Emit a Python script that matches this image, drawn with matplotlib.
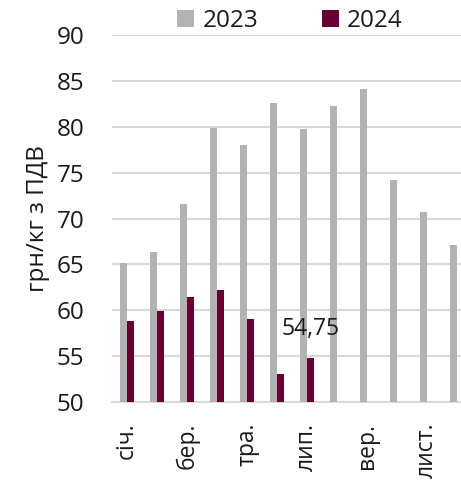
import numpy as np
import matplotlib
matplotlib.use("Agg")
import matplotlib.pyplot as plt

plt.rcParams['font.family'] = ['Open Sans', 'DejaVu Sans']

months = ['січ.', 'лют.', 'бер.', 'квіт.', 'тра.', 'черв.', 'лип.', 'серп.', 'вер.', 'жовт.', 'лист.', 'груд.']
vals_2023 = [65.2, 66.3, 71.6, 79.9, 78.0, 82.6, 79.75, 82.25, 84.1, 74.2, 70.7, 67.1]
vals_2024 = [58.8, 59.9, 61.4, 62.2, 59.1, 53.1, 54.75]
label_2024 = '54,75'

c23 = '#b2b2b2'
c24 = '#660033'
grid_c = '#d9d9d9'
txt_c = '#1a1a1a'

fig = plt.figure(figsize=(4.61, 4.86), dpi=100)
# axes extends past the right edge, like the cropped original
ax = fig.add_axes([112 / 461, 1 - 402 / 486, 360 / 461, 367 / 486])

x = np.arange(len(months))
w = 0.233
ax.bar(x - w / 2, vals_2023, width=w, color=c23, label='2023', zorder=3)
x24 = np.arange(len(vals_2024))
ax.bar(x24 + w / 2, vals_2024, width=w, color=c24, label='2024', zorder=3)

ax.annotate(label_2024, (x24[-1] + w / 2, vals_2024[-1]), xytext=(0, 29), textcoords='offset pixels',
            ha='center', va='center', fontsize=16.5, color=txt_c)

ax.set_ylim(50, 90)
ax.set_xlim(-0.5, 11.5)
ax.set_yticks(np.arange(50, 91, 5))
ax.set_xticks(x[::2])
ax.set_xticklabels(months[::2], rotation=90, fontsize=16.5, color=txt_c)
ax.tick_params(axis='y', length=0, pad=20, labelsize=17.5, labelcolor=txt_c)
ax.tick_params(axis='x', length=0, pad=15)
ax.grid(axis='y', color=grid_c, linewidth=1.5, zorder=0)
for s in ['top', 'right', 'left']:
    ax.spines[s].set_visible(False)
ax.spines['bottom'].set_color(grid_c)
ax.spines['bottom'].set_linewidth(1.5)

ax.set_ylabel('грн/кг з ПДВ', fontsize=17.5, color=txt_c)
ax.yaxis.set_label_coords(-0.172, 0.5)

fig.legend(loc='center', bbox_to_anchor=(290 / 461, 1 - 21 / 486), ncol=2, frameon=False,
           fontsize=17.5, handlelength=0.7, handleheight=0.7, handletextpad=0.35,
           columnspacing=2.6, labelcolor=txt_c)

fig.savefig('out.png', dpi=100)
